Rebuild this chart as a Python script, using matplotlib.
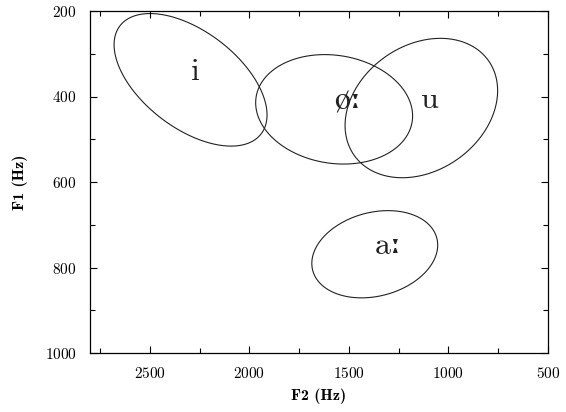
import numpy as np
import matplotlib
matplotlib.use("Agg")
import matplotlib.pyplot as plt
from matplotlib.patches import Polygon

# vowel formant ellipses: mean F2, mean F1, sd F2, sd F1, correlation
vowels = ["i", "øː", "u", "aː"]
f2_mean = [2295, 1574, 1136, 1370]
f1_mean = [361, 430, 427, 769]
f2_sd = [384, 394, 383, 316]
f1_sd = [155, 128, 163, 102]
rho = [-0.53, -0.12, 0.25, 0.21]

x_ticks = [2500, 2000, 1500, 1000, 500]
y_ticks = [200, 400, 600, 800, 1000]

plt.rcParams["font.family"] = ["cmr10", "STIXGeneral", "DejaVu Serif"]
plt.rcParams["axes.formatter.use_mathtext"] = True

fig = plt.figure(figsize=(5.66, 4.12), dpi=100)
ax = fig.add_axes([90 / 566, 59 / 412, 458 / 566, 342 / 412])

t = np.linspace(0, 2 * np.pi, 400, endpoint=False)
for name, mx, my, sx, sy, r in zip(vowels, f2_mean, f1_mean, f2_sd, f1_sd, rho):
    # ellipse from the covariance matrix (cholesky factor)
    xs = mx + sx * np.cos(t)
    ys = my + sy * (r * np.cos(t) + np.sqrt(1 - r * r) * np.sin(t))
    ax.add_patch(Polygon(np.column_stack([xs, ys]), closed=True, fill=False,
                         edgecolor="#222222", lw=0.8))
    ax.text(mx, my, name, fontsize=23, ha="left", va="baseline", color="#222222",
            family=["cmr10", "STIXGeneral", "DejaVu Serif"])

ax.set_xlim(2800, 500)
ax.set_ylim(1000, 200)
ax.set_xticks(x_ticks)
ax.set_yticks(y_ticks)
ax.set_xticks([2750, 2250, 1750, 1250, 750], minor=True)
ax.set_yticks([300, 500, 700, 900], minor=True)
ax.tick_params(which="both", direction="in", top=True, right=True, labelsize=11, pad=9.5)
ax.tick_params(which="major", length=5, width=0.8)
ax.tick_params(which="minor", length=3.3, width=0.8)
for s in ax.spines.values():
    s.set_linewidth(0.9)

ax.set_xlabel("F2 (Hz)", fontfamily="cmb10", fontsize=11.5)
ax.set_ylabel("F1 (Hz)", fontfamily="cmb10", fontsize=11.5)
ax.xaxis.set_label_coords(0.5, -0.105)
ax.yaxis.set_label_coords(-0.135, 0.5)

fig.savefig("out.png", dpi=100)
